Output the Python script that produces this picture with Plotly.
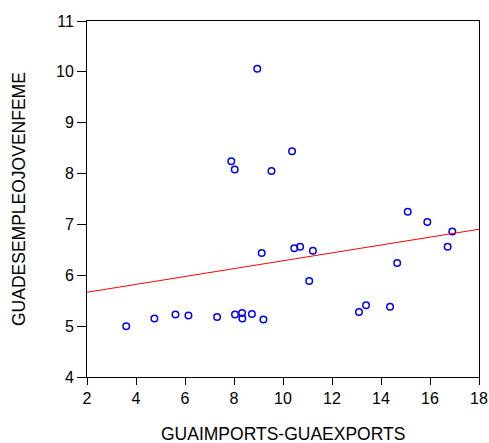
import numpy as np
import plotly.graph_objects as go

# Data
imports_minus_exports = [8.95, 10.37, 7.89, 8.03, 9.53,
                         3.60, 4.75, 5.61, 6.14, 7.31, 8.04, 8.33, 8.34, 8.73, 9.20,
                         9.13, 10.46, 10.70, 11.22, 11.07,
                         13.10, 13.39, 14.37, 14.66, 15.09, 15.89, 16.72, 16.91]
desempleo_joven_fem = [10.06, 8.44, 8.24, 8.08, 8.05,
                       5.00, 5.15, 5.23, 5.21, 5.18, 5.23, 5.26, 5.15, 5.24, 5.13,
                       6.44, 6.53, 6.56, 6.48, 5.89,
                       5.28, 5.41, 5.38, 6.24, 7.25, 7.05, 6.56, 6.86]

x_ticks = [2, 4, 6, 8, 10, 12, 14, 16, 18]
y_ticks = [4, 5, 6, 7, 8, 9, 10, 11]
x_title = "GUAIMPORTS-GUAEXPORTS"
y_title = "GUADESEMPLEOJOVENFEME"

x = np.array(imports_minus_exports)
y = np.array(desempleo_joven_fem)
slope, intercept = np.polyfit(x, y, 1)
fit_x = np.array([x_ticks[0], x_ticks[-1]])
fit_y = intercept + slope * fit_x

fig = go.Figure()
fig.add_trace(go.Scatter(
    x=imports_minus_exports, y=desempleo_joven_fem, mode="markers",
    marker=dict(symbol="circle-open", size=6.5, color="#0000FF",
                line=dict(width=1.5, color="#0000FF")),
    showlegend=False))
fig.add_trace(go.Scatter(
    x=fit_x, y=fit_y, mode="lines",
    line=dict(color="#FF0000", width=1), showlegend=False))

tick_font = dict(family="Liberation Sans, Arial, sans-serif", size=16, color="#000000")
title_font = dict(family="Liberation Sans, Arial, sans-serif", size=17.5, color="#000000")

fig.update_layout(
    width=489, height=443,
    margin=dict(l=87, r=10, t=21, b=66, autoexpand=False),
    paper_bgcolor="white", plot_bgcolor="white",
    font=tick_font,
    xaxis=dict(range=[2, 18], tickvals=x_ticks, ticks="outside", ticklen=7,
               tickcolor="#000", tickfont=tick_font, showgrid=False, zeroline=False,
               showline=True, linecolor="#000", linewidth=1, mirror=True,
               automargin=False),
    yaxis=dict(range=[4, 11], tickvals=y_ticks, ticks="outside", ticklen=9,
               tickcolor="#000", tickfont=tick_font, showgrid=False, zeroline=False,
               showline=True, linecolor="#000", linewidth=1, mirror=True,
               automargin=False),
    annotations=[
        dict(text=x_title, xref="paper", yref="paper", x=0.5, y=0,
             xanchor="center", yanchor="middle", yshift=-57, showarrow=False,
             font=title_font),
        dict(text=y_title, xref="paper", yref="paper", x=0, y=0.5,
             xanchor="center", yanchor="middle", xshift=-68, textangle=-90,
             showarrow=False, font=title_font),
    ],
)
fig.write_html("out.html", config={"displayModeBar": False},
               post_script="document.body.style.margin='0';document.body.style.overflow='hidden';")
